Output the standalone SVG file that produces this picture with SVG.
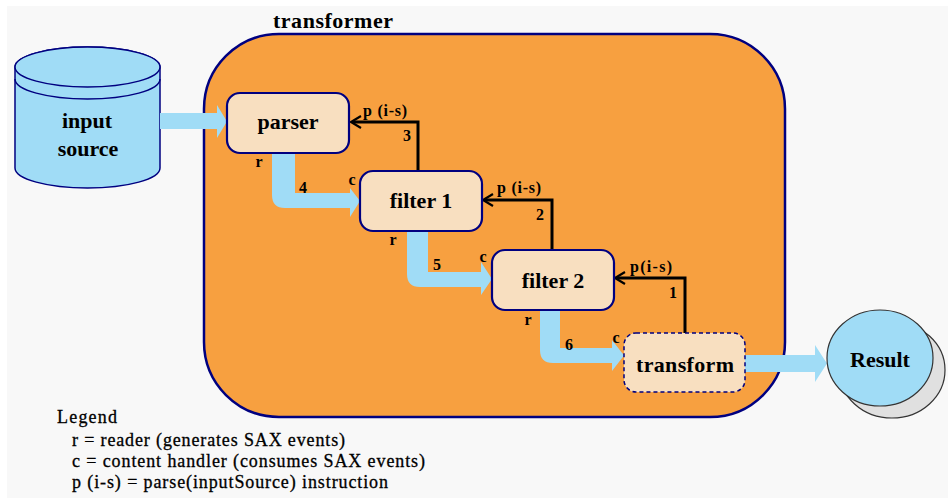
<svg xmlns="http://www.w3.org/2000/svg" width="948" height="498" viewBox="0 0 948 498">
<style>
.bg{fill:#f8f8f8}
.box{fill:#f8dfc0;stroke:#000080;stroke-width:2.2}
.dash{fill:#f8dfc0;stroke:#000080;stroke-width:1.5;stroke-dasharray:4 3}
.flow{fill:#a0dcf6;stroke:none}
.ctl{fill:none;stroke:#000;stroke-width:3}
.head{fill:none;stroke:#000;stroke-width:2.2}
.lbl{font-family:"Liberation Serif","Times New Roman",serif;font-weight:bold;font-size:22px;fill:#000;text-anchor:middle}
.sm{font-family:"Liberation Serif","Times New Roman",serif;font-weight:bold;font-size:16px;fill:#000}
.mid{text-anchor:middle}
.leg{font-family:"Liberation Serif","Times New Roman",serif;font-size:18px;fill:#000;stroke:#000;stroke-width:0.3}
</style>
<rect x="0" y="0" width="948" height="498" fill="#ffffff"/>
<rect class="bg" x="7" y="6" width="941" height="492"/>

<g id="transformer">
<rect x="204" y="34" width="581" height="383" rx="75" ry="75" fill="#f7a040" stroke="#000080" stroke-width="2.5"/>
<text class="lbl" x="333" y="28" textLength="120">transformer</text>
</g>

<g id="input-source">
<path d="M15,67 A72.5,20 0 0,1 160,67 L160,168 A72.5,20 0 0,1 15,168 Z" fill="#a0dcf6" stroke="#000080" stroke-width="1.5"/>
<ellipse cx="87.5" cy="67" rx="72.5" ry="20" fill="#a0dcf6" stroke="#000080" stroke-width="1.5"/>
<path d="M15,79 A72.5,20 0 0,0 160,79" fill="none" stroke="#000080" stroke-width="1.5"/>
<text class="lbl" x="87" y="128">input</text>
<text class="lbl" x="88" y="156">source</text>
</g>

<g id="connectors">
<path class="flow" d="M160,113 L217,113 L217,105 L227,121.5 L217,138 L217,129 L160,129 Z"/>
<path class="flow" d="M272,153 L295,153 L295,193 L350,193 L350,188 L360,201 L350,217 L350,208 L285,208 Q272,208 272,195 Z"/>
<path class="flow" d="M407,231 L428,231 L428,272 L481,272 L481,262 L492,279 L481,295 L481,287 L420,287 Q407,287 407,274 Z"/>
<path class="flow" d="M540,311 L560,311 L560,348 L612,348 L612,340 L624,355.5 L612,371 L612,363 L553,363 Q540,363 540,350 Z"/>
<path class="flow" d="M745,355 L815,355 L815,345 L827,363.5 L815,382 L815,372 L745,372 Z"/>
<path class="ctl" d="M418,171 V122 H352"/>
<path class="head" d="M361,116 L351,122 L361,128"/>
<path class="ctl" d="M552,250 V200 H484"/>
<path class="head" d="M493,194 L483,200 L493,206"/>
<path class="ctl" d="M685,333 V278 H616"/>
<path class="head" d="M625,272 L615,278 L625,284"/>
<text class="sm" x="363" y="116" textLength="44">p (i-s)</text>
<text class="sm mid" x="407" y="141">3</text>
<text class="sm" x="497" y="193" textLength="44">p (i-s)</text>
<text class="sm mid" x="540" y="220">2</text>
<text class="sm" x="630" y="272" textLength="42">p(i-s)</text>
<text class="sm mid" x="673" y="298">1</text>
<text class="sm mid" x="259" y="167">r</text>
<text class="sm mid" x="303" y="193">4</text>
<text class="sm mid" x="352" y="185">c</text>
<text class="sm mid" x="393" y="245">r</text>
<text class="sm mid" x="437" y="270">5</text>
<text class="sm mid" x="483" y="262">c</text>
<text class="sm mid" x="528" y="325">r</text>
<text class="sm mid" x="569" y="350">6</text>
<text class="sm mid" x="616" y="343">c</text>
</g>

<g id="parser">
<rect class="box" x="227" y="93" width="122" height="60" rx="13"/>
<text class="lbl" x="288" y="129">parser</text>
</g>
<g id="filter1">
<rect class="box" x="360" y="171" width="122" height="60" rx="13"/>
<text class="lbl" x="421" y="208">filter 1</text>
</g>
<g id="filter2">
<rect class="box" x="492" y="250" width="122" height="60" rx="13"/>
<text class="lbl" x="553" y="288">filter 2</text>
</g>
<g id="transform">
<rect class="dash" x="624" y="333" width="121" height="59" rx="12"/>
<text class="lbl" x="685" y="372" textLength="98">transform</text>
</g>
<g id="result">
<ellipse cx="892" cy="370" rx="53" ry="48" fill="#e0e0e0" stroke="#333" stroke-width="1.2"/>
<ellipse cx="880" cy="358" rx="53" ry="48" fill="#a0dcf6" stroke="#333" stroke-width="1.2"/>
<text class="lbl" x="880" y="367">Result</text>
</g>

<g id="legend">
<text class="leg" x="57" y="423" textLength="60">Legend</text>
<text class="leg" x="72" y="446" textLength="273">r = reader (generates SAX events)</text>
<text class="leg" x="72" y="467" textLength="353">c = content handler (consumes SAX events)</text>
<text class="leg" x="72" y="488" textLength="316">p (i-s) = parse(inputSource) instruction</text>
</g>
</svg>
